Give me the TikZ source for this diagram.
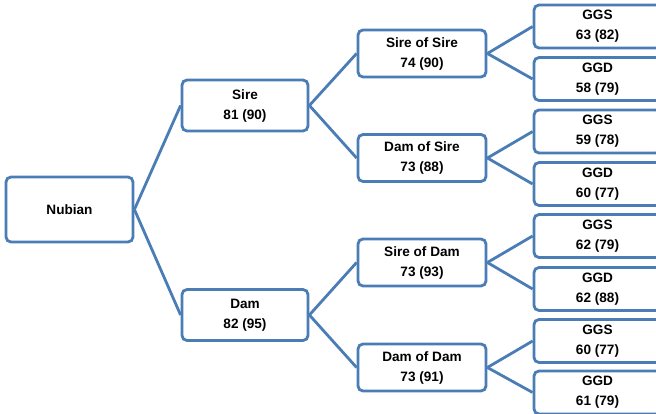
\documentclass[tikz,border=0pt]{standalone}
\usepackage{fontspec}
\setmainfont{Liberation Sans}
\definecolor{boxblue}{RGB}{74,124,182}
\begin{document}
\begin{tikzpicture}[x=1pt,y=-1pt,
  box/.style={draw=boxblue,line width=2.8pt,rounded corners=5pt,fill=white,
    align=center,inner sep=0pt,font=\bfseries\fontsize{13.6}{20}\selectfont},
  conn/.style={draw=boxblue,line width=2.8pt}]
\useasboundingbox (0,0) rectangle (656,414);
\clip (0,0) rectangle (656,414);
\node[box,minimum width=127pt,minimum height=65pt] (nub) at (69.5,209.5) {Nubian};
\node[box,minimum width=126pt,minimum height=51pt] (sire) at (245,105.5) {Sire\\81 (90)};
\node[box,minimum width=126pt,minimum height=51pt] (dam) at (245,315) {Dam\\82 (95)};
\node[box,minimum width=128pt,minimum height=47pt] (sos) at (422,53.5) {Sire of Sire\\74 (90)};
\node[box,minimum width=128pt,minimum height=47pt] (dos) at (422,158) {Dam of Sire\\73 (88)};
\node[box,minimum width=128pt,minimum height=47pt] (sod) at (422,262.5) {Sire of Dam\\73 (93)};
\node[box,minimum width=128pt,minimum height=47pt] (dod) at (422,367.5) {Dam of Dam\\73 (91)};
\node[box,minimum width=127pt,minimum height=43pt] (g1) at (597.5,26.5) {GGS\\63 (82)};
\node[box,minimum width=127pt,minimum height=43pt] (g2) at (597.5,79) {GGD\\58 (79)};
\node[box,minimum width=127pt,minimum height=43pt] (g3) at (597.5,131.5) {GGS\\59 (78)};
\node[box,minimum width=127pt,minimum height=43pt] (g4) at (597.5,184) {GGD\\60 (77)};
\node[box,minimum width=127pt,minimum height=43pt] (g5) at (597.5,236) {GGS\\62 (79)};
\node[box,minimum width=127pt,minimum height=43pt] (g6) at (597.5,289) {GGD\\62 (88)};
\node[box,minimum width=127pt,minimum height=43pt] (g7) at (597.5,341) {GGS\\60 (77)};
\node[box,minimum width=127pt,minimum height=43pt] (g8) at (597.5,392.5) {GGD\\61 (79)};
\draw[conn] (nub.east) -- (sire.west);
\draw[conn] (nub.east) -- (dam.west);
\draw[conn] (sire.east) -- (sos.west);
\draw[conn] (sire.east) -- (dos.west);
\draw[conn] (dam.east) -- (sod.west);
\draw[conn] (dam.east) -- (dod.west);
\draw[conn] (sos.east) -- (g1.west);
\draw[conn] (sos.east) -- (g2.west);
\draw[conn] (dos.east) -- (g3.west);
\draw[conn] (dos.east) -- (g4.west);
\draw[conn] (sod.east) -- (g5.west);
\draw[conn] (sod.east) -- (g6.west);
\draw[conn] (dod.east) -- (g7.west);
\draw[conn] (dod.east) -- (g8.west);
\end{tikzpicture}
\end{document}
